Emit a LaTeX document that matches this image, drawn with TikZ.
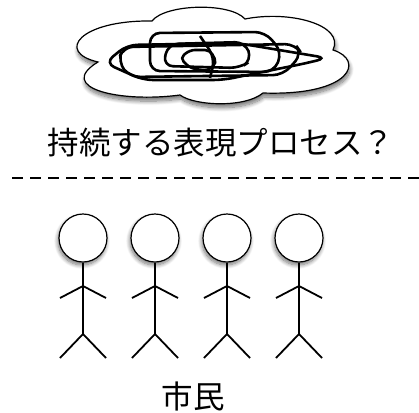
\documentclass[tikz,border=0pt]{standalone}
\usepackage{fontspec}
\newfontfamily\jpfont{Noto Sans CJK JP}
\usepackage{tikz}
\usetikzlibrary{shadows.blur}
\tikzset{
  caption/.style={inner sep=0pt, font=\jpfont\fontsize{31.5}{31.5}\selectfont},
  cloudfill/.style={draw, line width=1.2pt, fill=white, blur shadow={shadow xshift=1pt, shadow yshift=-4pt, shadow blur radius=4pt, shadow blur steps=10, shadow opacity=55}},
  tangle/.style={line width=2.6pt, rounded corners=10pt},
  divider/.style={line width=2.4pt, dash pattern=on 11pt off 7pt},
  head/.style={draw, circle, line width=1.2pt, fill=white, minimum size=48pt, inner sep=0pt, blur shadow={shadow xshift=-1pt, shadow yshift=-3pt, shadow blur radius=4pt, shadow blur steps=10, shadow opacity=55}},
  limb/.style={line width=1.8pt},
  person/.pic={
    \node[head] (-head) at (0,0) {};
    \draw[limb] (-head.south) -- (0,96);
    \draw[limb] (-23,60) -- (0,48) -- (23,60);
    \draw[limb] (-23,120) -- (0,96) -- (23,120);
  }
}

\begin{document}
\begin{tikzpicture}[x=1pt, y=-1pt]
  \useasboundingbox (0,0) rectangle (419,412);

  % cloud with the tangled scribble
  \path[cloudfill] (98,62) .. controls (55,52) and (80,20) .. (152,21)
    .. controls (165,4) and (230,2) .. (245,19)
    .. controls (290,10) and (345,25) .. (333,50)
    .. controls (365,60) and (352,96) .. (263,93)
    .. controls (245,108) and (195,106) .. (180,95)
    .. controls (120,103) and (55,88) .. (98,62) -- cycle;
  \draw[tangle] (150,33) -- (265,32) -- (282,52) -- (274,72) -- (150,71) -- cycle;
  \draw[tangle] (105,63) -- (127,45) -- (237,43) -- (327,58) -- (307,63) -- (223,80) -- (143,80) -- cycle;
  \draw[tangle] (168,44) -- (245,42) -- (252,60) -- (240,68) -- (163,66) -- cycle;
  \draw[tangle, rounded corners=5pt] (180,58) -- (190,50) -- (210,50) -- (217,63) -- (207,71) -- (190,68) -- cycle;
  \draw[tangle] (123,47) -- (295,44) -- (302,54) -- (283,75) -- (130,77) -- (118,62) -- cycle;
  \draw[tangle] (200,36) -- (215,58) -- (210,78);

  \node[caption] (question) at (221,143) {持続する表現プロセス？};

  \draw[divider] (12,178) -- (419,178);

  % citizens
  \pic (p1) at (83,238) {person};
  \pic (p2) at (155,238) {person};
  \pic (p3) at (227,238) {person};
  \pic (p4) at (299,238) {person};

  \node[caption] (citizens) at (193,396) {市民};
\end{tikzpicture}
\end{document}
